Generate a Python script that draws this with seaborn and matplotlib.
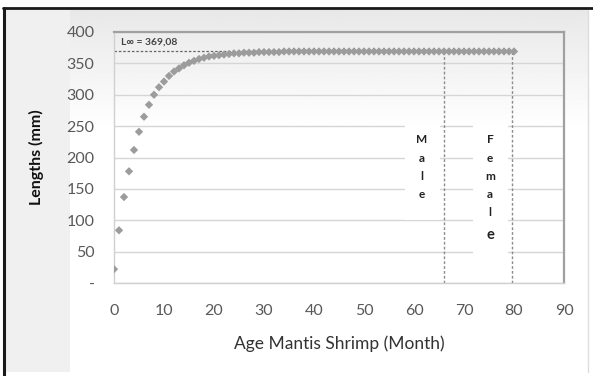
import numpy as np
import pandas as pd
import matplotlib
matplotlib.use("Agg")
import matplotlib.pyplot as plt
import seaborn as sns
from matplotlib.lines import Line2D
from matplotlib.patches import Rectangle

# edad (meses) y longitud
edad = list(range(0, 81))
longitud = [22, 84, 137, 178, 212, 241, 265, 284, 300, 312,
            321, 330, 337, 342, 347, 351, 354, 357, 359, 361,
            362, 363, 364, 365, 366, 366, 367, 367, 367, 368,
            368, 368, 368, 368, 369, 369, 369, 369, 369, 369,
            369, 369, 369, 369, 369, 369, 369, 369, 369, 369,
            369, 369, 369, 369, 369, 369, 369, 369, 369, 369,
            369, 369, 369, 369, 369, 369, 369, 369, 369, 369,
            369, 369, 369, 369, 369, 369, 369, 369, 369, 369,
            369]
L_inf = 369.08
edad_macho = 66
edad_hembra = 79.5
etiqueta_linf = "L∞ = 369,08"
xticks = [0, 10, 20, 30, 40, 50, 60, 70, 80, 90]
yticks = [0, 50, 100, 150, 200, 250, 300, 350, 400]
ytick_labels = ["-", "50", "100", "150", "200", "250", "300", "350", "400"]

datos = pd.DataFrame({"edad": edad, "longitud": longitud})

sns.set_style("white")
plt.rcParams["font.family"] = ["Lato", "DejaVu Sans"]

W, H = 593, 376
fig = plt.figure(figsize=(W / 100, H / 100), dpi=100)
fig.patch.set_facecolor("white")

# fondo con degradado
bg = fig.add_axes([70 / W, 1 - 372 / H, (588 - 70) / W, (372 - 10) / H], zorder=-2)
grad = np.concatenate([np.linspace(0.91, 1.0, 120), np.ones(240)])[:, None]
bg.imshow(np.repeat(grad, 2, axis=1), cmap="gray", vmin=0, vmax=1, aspect="auto",
          extent=[0, 1, 0, 1], origin="upper")
bg.set_axis_off()

# panel gris izquierdo
fig.patches.append(Rectangle((5 / W, 1 - 372 / H), 65 / W, 362 / H,
                             transform=fig.transFigure, facecolor="#f0f0f0",
                             edgecolor="none", zorder=-1))

ax = fig.add_axes([114 / W, 1 - 283 / H, (564 - 114) / W, (283 - 32) / H])
ax.patch.set_alpha(0)

sns.scatterplot(data=datos, x="edad", y="longitud", marker="D", s=18,
                color="#9c9c9c", edgecolor="none", ax=ax, zorder=3)

ax.set_xlim(0, 90)
ax.set_ylim(0, 400)
ax.set_xticks(xticks)
ax.set_yticks(yticks)
ax.set_yticklabels(ytick_labels)
ax.tick_params(axis="both", length=0, labelsize=11.5, labelcolor="#595959")
ax.tick_params(axis="x", pad=15)
ax.tick_params(axis="y", pad=14)
ax.grid(axis="y", color="#d6d6d6", linewidth=1)
ax.set_axisbelow(True)
for lado in ["left", "bottom"]:
    ax.spines[lado].set_color("#d0d0d0")
    ax.spines[lado].set_linewidth(1)
for lado in ["top", "right"]:
    ax.spines[lado].set_color("#a0a0a0")
    ax.spines[lado].set_linewidth(1.6)

ax.set_xlabel("Age Mantis Shrimp (Month)", fontsize=12.5, color="#333333", labelpad=13)
ax.set_ylabel("Lengths (mm)", fontsize=11.5, fontweight="bold", color="#111111", labelpad=16)

# linea asintotica
ax.plot([0, 80], [L_inf, L_inf], color="#666666", linestyle=(0, (2, 1.5)), linewidth=0.9, zorder=2)
ax.text(1.5, 376, etiqueta_linf, fontsize=7.5, fontweight="bold", color="#444444",
        va="bottom", ha="left")

# lineas de edad maxima
for xv in [edad_macho, edad_hembra]:
    ax.plot([xv, xv], [0, L_inf], color="#8c8c8c", linestyle=(0, (2, 1.5)), linewidth=1, zorder=2)

# cajas de texto
ax.add_patch(Rectangle((58.2, 100), 7.0, 151, facecolor="white", edgecolor="none", zorder=1.5))
ax.add_patch(Rectangle((71.8, 40), 7.0, 211, facecolor="white", edgecolor="none", zorder=1.5))
for i, letra in enumerate("Male"):
    ax.text(61.6, 228 - i * 29, letra, fontsize=8.5, fontweight="bold", color="#222222",
            ha="center", va="center", zorder=4)
letras_f = "Female"
ys_f = [228, 199, 170, 141, 112, 77]
for letra, yv in zip(letras_f, ys_f):
    ax.text(75.2, yv, letra, fontsize=8.5 if yv > 80 else 10.5, fontweight="bold", color="#222222",
            ha="center", va="center", zorder=4)

# bordes de la figura
fig.lines.append(Line2D([3 / W, 1], [1 - 8 / H, 1 - 8 / H], transform=fig.transFigure,
                        color="#1a1a1a", linewidth=2))
fig.lines.append(Line2D([4 / W, 4 / W], [0, 1 - 8 / H], transform=fig.transFigure,
                        color="#1a1a1a", linewidth=2.2))
fig.lines.append(Line2D([588 / W, 588 / W], [1 - 372 / H, 1 - 10 / H], transform=fig.transFigure,
                        color="#dddddd", linewidth=1))

fig.savefig("out.png", dpi=100)
